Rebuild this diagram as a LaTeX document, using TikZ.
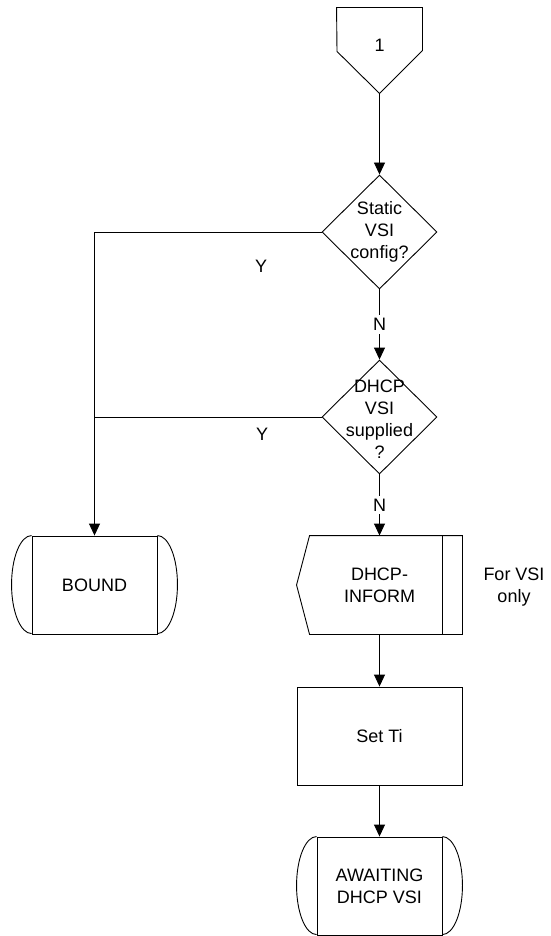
\documentclass[tikz,border=0pt]{standalone}
\usepackage{fontspec}
\setmainfont{Liberation Sans}
\usetikzlibrary{arrows.meta,shapes.geometric}

\begin{document}
\begin{tikzpicture}[x=1pt,y=-1pt,line width=0.9pt,
  every node/.style={font=\fontsize{18}{22}\selectfont,inner sep=0pt},
  txt/.style={align=center},
  statebox/.style={draw,minimum width=125pt,minimum height=98pt,align=center},
  procbox/.style={minimum width=165pt,minimum height=98pt,align=center},
  decision/.style={diamond,draw,minimum width=115pt,minimum height=114pt},
  flow/.style={-{Triangle[length=12pt,width=11pt]}},
  gaplabel/.style={fill=white,inner sep=3pt}]

\useasboundingbox (0,0) rectangle (550,936);

% off-page connector
\node[minimum width=85pt,minimum height=85pt] (start) at (379.5,50.5) {};
\draw (start.south) -- ++(-42.5,-42) -- (start.north west) -- (start.north east) -- ++(0,43) -- cycle;
\node (one) at (379.5,45) {1};

% decisions
\node[decision] (d1) at (379.5,232) {};
\node[txt] (d1t) at (379.5,232) {Static\\VSI\\config?};
\node[decision] (d2) at (379.5,417) {};
\node[txt] (d2t) at (379.5,419) {DHCP\\VSI\\supplied\\?};

% state BOUND
\node[statebox] (bound) at (94.5,585) {BOUND};
\draw (bound.north west) arc[start angle=90,end angle=270,x radius=20pt,y radius=49pt];
\draw (bound.north east) arc[start angle=90,end angle=-90,x radius=20pt,y radius=49pt];

% output signal DHCP-INFORM
\node[procbox] (inform) at (379.5,585) {DHCP-\\INFORM};
\draw ([xshift=13pt]inform.north west) -- (inform.north east) -- (inform.south east)
      -- ([xshift=13pt]inform.south west) -- (inform.west) -- cycle;
\draw ([xshift=-20pt]inform.north east) -- ([xshift=-20pt]inform.south east);
\node[txt] (note) at (514,587) {For VSI\\only};

% task
\node[procbox,draw] (setti) at (379.5,736) {Set Ti};

% state AWAITING DHCP VSI
\node[statebox] (await) at (379.5,886) {AWAITING\\DHCP VSI};
\draw (await.north west) arc[start angle=90,end angle=270,x radius=20pt,y radius=49pt];
\draw (await.north east) arc[start angle=90,end angle=-90,x radius=20pt,y radius=49pt];

% connectors
\draw[flow] (start.south) -- (d1.north);
\draw[flow] (d1.west) -| (bound.north);
\draw (d2.west) -- (d2.west -| bound.north);
\node (y1) at (261,266) {Y};
\node (y2) at (262,434) {Y};
\draw[flow] (d1.south) -- node[gaplabel] (n1) {N} (d2.north);
\draw[flow] (d2.south) -- node[gaplabel] (n2) {N} (inform.north);
\draw[flow] (inform.south) -- (setti.north);
\draw[flow] (setti.south) -- (await.north);

\end{tikzpicture}
\end{document}
